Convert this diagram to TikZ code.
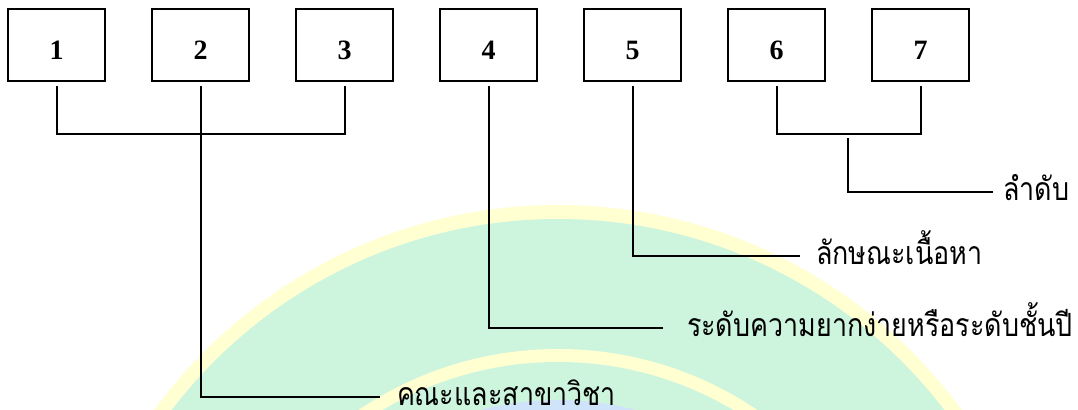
\documentclass[tikz,border=0pt]{standalone}
\usepackage{fontspec}
\setmainfont{Liberation Serif}
\newfontfamily\thaifont[Script=Thai,FakeStretch=0.84]{Loma}
\usetikzlibrary{calc}
\definecolor{sealyellow}{HTML}{FFFFD2}
\definecolor{sealgreen}{HTML}{CDF5DD}
\definecolor{sealblue}{HTML}{CFE3FA}
\tikzset{
  box/.style={draw,line width=1.5pt,minimum width=72.5pt,minimum height=54.5pt,
    inner sep=0pt,text height=22pt,text depth=0pt,
    font=\bfseries\fontsize{21}{24}\selectfont},
  topic/.style={anchor=west,inner sep=0pt,text height=12pt,text depth=0pt,
    font=\thaifont\fontsize{24}{27}\selectfont}
}
\begin{document}
\begin{tikzpicture}[x=0.75pt,y=-0.75pt,line width=1.5pt]
      \useasboundingbox (0,0) rectangle (1078,410);
      % faint seal behind the chart
      \begin{scope}
        \clip (0,0) rectangle (1078,410);
        \fill[sealyellow] (558,705) circle[radius=500];
        \fill[sealgreen] (558,705) circle[radius=486];
        \fill[sealyellow] (558,705) circle[radius=356];
        \fill[sealgreen] (558,705) circle[radius=343];
        \fill[sealblue] (558,705) circle[radius=305];
      \end{scope}
      \draw
        (56.5,45) node[box] (b1){1}
        (200.5,45) node[box] (b2){2}
        (344.5,45) node[box] (b3){3}
        (488.5,45) node[box] (b4){4}
        (632.5,45) node[box] (b5){5}
        (776.5,45) node[box] (b6){6}
        (920.5,45) node[box] (b7){7};
      \draw
        (396,397) node[topic] (t2){คณะและสาขาวิชา}
        (686,328) node[topic] (t4){ระดับความยากง่ายหรือระดับชั้นปี}
        (815,256) node[topic] (t5){ลักษณะเนื้อหา}
        (1002,192) node[topic] (t67){ลำดับ};
      \coordinate (j13) at (200,134);
      \coordinate (j67) at (848,134);
      \begin{scope}[-]
        \draw ([yshift=-3pt]b1.south) -- (b1.south |- j13) -- (b3.south |- j13) -- ([yshift=-3pt]b3.south);
        \draw ([yshift=-3pt]b6.south) -- (b6.south |- j67) -- (b7.south |- j67) -- ([yshift=-3pt]b7.south);
        \draw ([yshift=-3pt]b2.south) |- ([xshift=-12pt]t2.west);
        \draw ([yshift=-3pt]b4.south) |- ([xshift=-17pt]t4.west);
        \draw ([yshift=-3pt]b5.south) |- ([xshift=-11pt]t5.west);
        \draw ([yshift=-3pt]j67) |- ([xshift=-7pt]t67.west);
      \end{scope}
    \end{tikzpicture}
\end{document}
